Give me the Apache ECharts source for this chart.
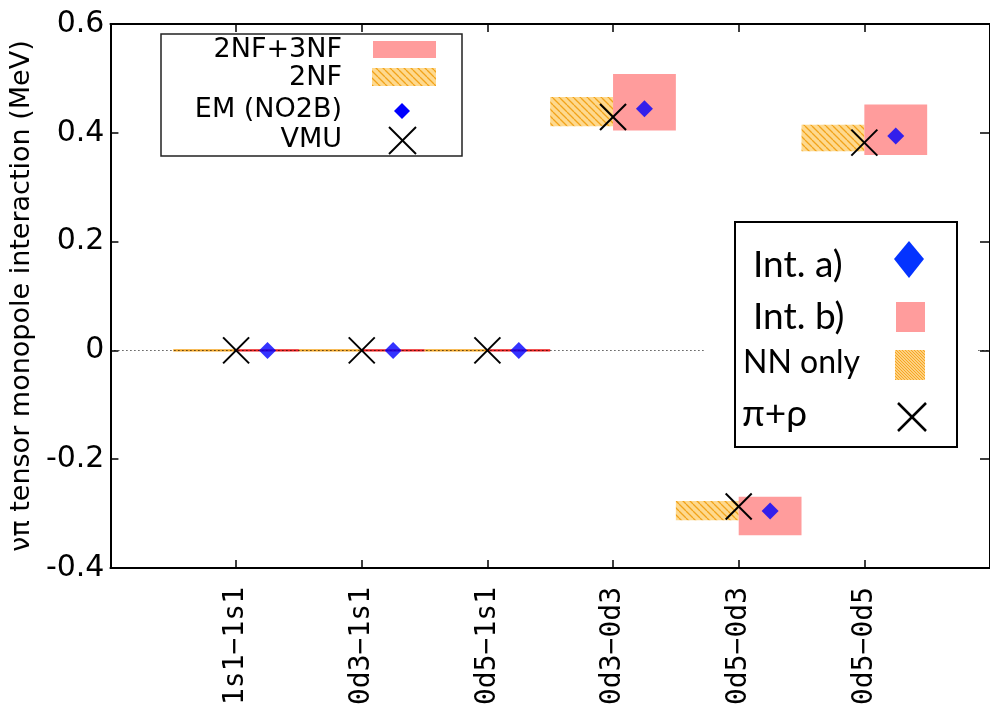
<!DOCTYPE html>
<html><head><meta charset="utf-8">
<script src="https://cdn.jsdelivr.net/npm/echarts@6/dist/echarts.min.js"></script>
<style>html,body{margin:0;padding:0;background:#fff}#c{width:990px;height:708px}</style>
</head><body><div id="c"></div>
<script>
// ---- data ----
const categories = ['1s1\u22121s1', '0d3\u22121s1', '0d5\u22121s1', '0d3\u22120d3', '0d5\u22120d3', '0d5\u22120d5'];
const vmuValues = [0, 0, 0, 0.429, -0.287, 0.382];          // VMU (pi+rho)
const emValues = [0, 0, 0, 0.444, -0.295, 0.394];           // EM (NO2B)
const full3nfLow = [0, 0, 0, 0.404, -0.340, 0.359];         // 2NF+3NF band
const full3nfHigh = [0, 0, 0, 0.508, -0.269, 0.452];
const nnLow = [0, 0, 0, 0.412, -0.312, 0.366];              // 2NF band
const nnHigh = [0, 0, 0, 0.466, -0.277, 0.415];
const yTicks = { min: -0.4, max: 0.6, step: 0.2 };

// ---- helpers ----
function hatch(size, bg, fg, lw) {
  const c = document.createElement('canvas');
  c.width = size; c.height = size;
  const g = c.getContext('2d');
  g.fillStyle = bg; g.fillRect(0, 0, size, size);
  g.strokeStyle = fg; g.lineWidth = lw;
  g.beginPath();
  for (const o of [-size, 0, size]) { g.moveTo(o, 0); g.lineTo(o + size, size); }
  g.stroke();
  return c;
}
const hatchPat = { image: hatch(7, '#fed98e', '#f2a31a', 1.3), repeat: 'repeat' };
const finePat = { image: hatch(3, '#fdd080', '#f6a623', 1), repeat: 'repeat' };
const PINK = '#ff9c9c';

const chart = echarts.init(document.getElementById('c'));

function bandRender(x0, x1, fill, lineColor) {
  return function (params, api) {
    const i = api.value(0), lo = api.value(1), hi = api.value(2);
    const a = api.coord([i + x0, hi]);
    const b = api.coord([i + x1, lo]);
    if (hi === lo) {
      return { type: 'line', shape: { x1: a[0], y1: a[1], x2: b[0], y2: b[1] },
        style: { stroke: lineColor, lineWidth: 2.4 } };
    }
    return { type: 'rect', shape: { x: a[0], y: a[1], width: b[0] - a[0], height: b[1] - a[1] },
      style: { fill: fill, stroke: null } };
  };
}

function crossRender(params, api) {
  const p = api.coord([api.value(0), api.value(1)]);
  const h = 13;
  return { type: 'group', children: [
    { type: 'line', shape: { x1: p[0] - h, y1: p[1] - h, x2: p[0] + h, y2: p[1] + h }, style: { stroke: '#000', lineWidth: 2 } },
    { type: 'line', shape: { x1: p[0] - h, y1: p[1] + h, x2: p[0] + h, y2: p[1] - h }, style: { stroke: '#000', lineWidth: 2 } }
  ] };
}

const axisLineStyle = { color: '#000', width: 2 };
const tickStyle = { color: '#000', width: 1.5 };

const TXT = { fontFamily: 'DejaVu Sans', fill: '#000' };

const option = {
  animation: false,
  backgroundColor: '#fff',
  grid: { left: 106, top: 24, width: 893, height: 546 },
  xAxis: [
    { type: 'value', min: 0, max: 7, interval: 1, position: 'bottom',
      axisLine: { show: true, onZero: false, lineStyle: axisLineStyle },
      axisTick: { show: true, inside: true, length: 8, lineStyle: tickStyle },
      splitLine: { show: false },
      axisLabel: { rotate: 90, margin: 19, fontFamily: 'DejaVu Sans Mono', fontSize: 28, color: '#000',
        formatter: v => categories[v - 1] || '' } },
    { type: 'value', min: 0, max: 7, interval: 1, position: 'top',
      axisLine: { show: true, onZero: false, lineStyle: axisLineStyle },
      axisTick: { show: true, inside: true, length: 8, lineStyle: tickStyle },
      splitLine: { show: false }, axisLabel: { show: false } }
  ],
  yAxis: [
    { type: 'value', min: yTicks.min, max: yTicks.max, interval: yTicks.step, position: 'left',
      axisLine: { show: true, onZero: false, lineStyle: axisLineStyle },
      axisTick: { show: true, inside: true, length: 8, lineStyle: tickStyle },
      splitLine: { show: false },
      axisLabel: { margin: 6, fontFamily: 'DejaVu Sans', fontSize: 30, color: '#000',
        formatter: v => (Math.abs(v) < 1e-9 ? '0' : (+v).toFixed(1)) },
      name: '\u03bd\u03c0 tensor monopole interaction (MeV)', nameLocation: 'middle', nameGap: 72, nameRotate: 90,
      nameTextStyle: { fontFamily: 'DejaVu Sans', fontSize: 27, color: '#000' } },
    { type: 'value', min: yTicks.min, max: yTicks.max, interval: yTicks.step, position: 'right',
      axisLine: { show: true, onZero: false, lineStyle: axisLineStyle },
      axisTick: { show: true, inside: true, length: 10, lineStyle: tickStyle },
      splitLine: { show: false }, axisLabel: { show: false } }
  ],
  series: [
    { name: '2NF', type: 'custom', z: 2, clip: false, renderItem: bandRender(-0.5, 0, hatchPat, '#f5a623'),
      encode: { x: 0, y: [1, 2] },
      data: categories.map((c, k) => [k + 1, nnLow[k], nnHigh[k]]) },
    { name: '2NF+3NF', type: 'custom', z: 2, clip: false, renderItem: bandRender(0, 0.5, PINK, '#ee1c1c'),
      encode: { x: 0, y: [1, 2] },
      data: categories.map((c, k) => [k + 1, full3nfLow[k], full3nfHigh[k]]) },
    { name: 'zero', type: 'line', z: 3, data: [], silent: true,
      markLine: { silent: true, symbol: 'none', label: { show: false },
        lineStyle: { color: '#000', width: 1, type: [1, 3] }, data: [{ yAxis: 0 }] } },
    { name: 'VMU', type: 'custom', z: 4, renderItem: crossRender, encode: { x: 0, y: 1 },
      data: categories.map((c, k) => [k + 1, vmuValues[k]]) },
    { name: 'EM (NO2B)', type: 'scatter', z: 5, symbol: 'diamond', symbolSize: [17, 17],
      itemStyle: { color: '#0000ff' },
      data: categories.map((c, k) => [k + 1.25, emValues[k]]) }
  ],
  graphic: [
    // top-left legend
    { type: 'rect', z: 100, shape: { x: 161, y: 34, width: 301, height: 122 },
      style: { fill: '#fff', stroke: '#222', lineWidth: 1.5 } },
    { type: 'text', z: 101, style: Object.assign({ x: 342, y: 50, text: '2NF+3NF', align: 'right', verticalAlign: 'middle', fontSize: 27 }, TXT) },
    { type: 'text', z: 101, style: Object.assign({ x: 342, y: 78, text: '2NF', align: 'right', verticalAlign: 'middle', fontSize: 27 }, TXT) },
    { type: 'text', z: 101, style: Object.assign({ x: 342, y: 110, text: 'EM (NO2B)', align: 'right', verticalAlign: 'middle', fontSize: 27 }, TXT) },
    { type: 'text', z: 101, style: Object.assign({ x: 342, y: 140, text: 'VMU', align: 'right', verticalAlign: 'middle', fontSize: 27 }, TXT) },
    { type: 'rect', z: 101, shape: { x: 373, y: 41, width: 63, height: 17 }, style: { fill: PINK } },
    { type: 'rect', z: 101, shape: { x: 372, y: 68, width: 64, height: 18 }, style: { fill: hatchPat } },
    { type: 'polygon', z: 101, shape: { points: [[402, 103], [410, 111], [402, 119], [394, 111]] }, style: { fill: '#0000ff' } },
    { type: 'line', z: 101, shape: { x1: 389, y1: 127, x2: 416, y2: 154 }, style: { stroke: '#000', lineWidth: 2 } },
    { type: 'line', z: 101, shape: { x1: 389, y1: 154, x2: 416, y2: 127 }, style: { stroke: '#000', lineWidth: 2 } },
    // right legend (inset)
    { type: 'rect', z: 100, shape: { x: 705, y: 212, width: 273, height: 244 }, style: { fill: '#fff' } },
    { type: 'rect', z: 101, shape: { x: 735, y: 222, width: 222, height: 225 },
      style: { fill: '#fff', stroke: '#000', lineWidth: 2 } },
    { type: 'text', z: 102, style: { x: 753, y: 265, text: 'Int. a)', verticalAlign: 'middle', fontSize: 37, fontFamily: 'Lato', fill: '#000' } },
    { type: 'text', z: 102, style: { x: 753, y: 317, text: 'Int. b)', verticalAlign: 'middle', fontSize: 37, fontFamily: 'Lato', fill: '#000' } },
    { type: 'text', z: 102, style: { x: 743, y: 363, text: 'NN only', verticalAlign: 'middle', fontSize: 32, fontFamily: 'Lato', fill: '#000' } },
    { type: 'text', z: 102, style: { x: 742, y: 414, text: '\u03c0+\u03c1', verticalAlign: 'middle', fontSize: 37, fontFamily: 'Lato', fill: '#000' } },
    { type: 'polygon', z: 102, shape: { points: [[909, 241], [924, 259], [909, 278], [894, 259]] }, style: { fill: '#0433ff' } },
    { type: 'rect', z: 102, shape: { x: 896, y: 302, width: 29, height: 30 }, style: { fill: PINK } },
    { type: 'rect', z: 102, shape: { x: 895, y: 350, width: 30, height: 30 }, style: { fill: finePat } },
    { type: 'line', z: 102, shape: { x1: 898, y1: 403, x2: 926, y2: 431 }, style: { stroke: '#000', lineWidth: 2.5 } },
    { type: 'line', z: 102, shape: { x1: 898, y1: 431, x2: 926, y2: 403 }, style: { stroke: '#000', lineWidth: 2.5 } }
  ]
};
chart.setOption(option);
</script>
</body></html>
